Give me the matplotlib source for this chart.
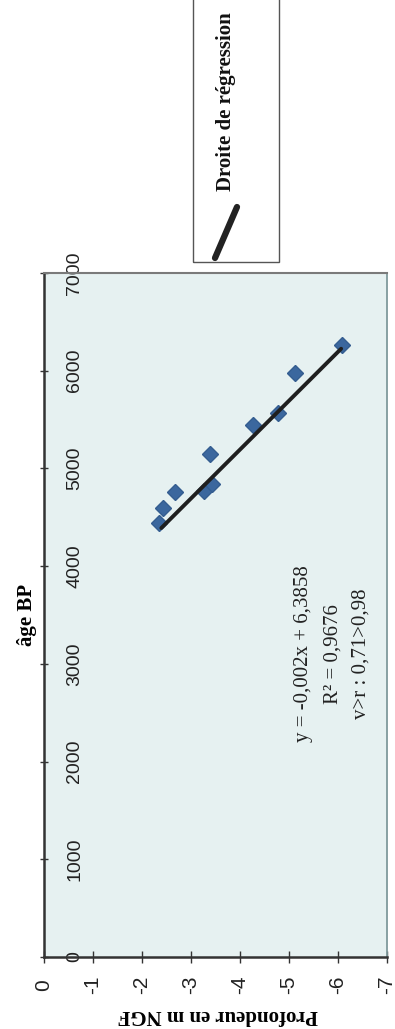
import matplotlib
matplotlib.use("Agg")
import matplotlib.pyplot as plt
import numpy as np
from matplotlib.lines import Line2D
from matplotlib.patches import Rectangle

plt.rcParams["axes.unicode_minus"] = False

AGE_BP = [4440, 4590, 4755, 4765, 4837, 5143, 5449, 5571, 5980, 6265]
DEPTH_NGF = [-2.35, -2.43, -2.67, -3.27, -3.43, -3.39, -4.27, -4.78, -5.12, -6.08]

# regression printed on the chart: depth = SLOPE * age + INTERCEPT
SLOPE = -0.002
INTERCEPT = 6.3858
FIT_AGE_RANGE = [4390, 6225]

AGE_TICKS = [0, 1000, 2000, 3000, 4000, 5000, 6000, 7000]
DEPTH_TICKS = [0, -1, -2, -3, -4, -5, -6, -7]

EQ_LINES = ["y = -0,002x + 6,3858", "R\u00b2 = 0,9676", "v>r : 0,71>0,98"]
EQ_DEPTH = [-5.30, -5.90, -6.47]
EQ_AGE = 3100

SANS = "Liberation Sans"
SERIF = "Liberation Serif"
W, H = 395, 1029

fig = plt.figure(figsize=(W / 100, H / 100), dpi=100)
fig.patch.set_facecolor("white")
ax = fig.add_axes([44 / W, 1 - 957 / H, 343 / W, 684 / H])
ax.set_facecolor("#e6f1f1")

# page is turned a quarter: depth runs across, age runs up
ax.set_xlim(0, -7)
ax.set_ylim(0, 7000)

ax.plot(DEPTH_NGF, AGE_BP, linestyle="none", marker="D", markersize=8,
        color="#3b679e", markeredgecolor="#345d90", zorder=3)

fit_age = np.array(FIT_AGE_RANGE, dtype=float)
ax.plot(SLOPE * fit_age + INTERCEPT, fit_age, color="#1f1f1f", lw=2.8,
        solid_capstyle="round", zorder=4)

# axes frame
for side, lw, col in [("left", 1.8, "#333333"), ("bottom", 1.8, "#333333"),
                      ("top", 1.5, "#7a7a7a"), ("right", 1.3, "#7f9a9c")]:
    ax.spines[side].set_linewidth(lw)
    ax.spines[side].set_color(col)

ax.set_yticks(AGE_TICKS)
ax.set_yticklabels([str(t) for t in AGE_TICKS], rotation=90, ha="center",
                   va="center", family=SANS, fontsize=14)
ax.tick_params(axis="y", direction="inout", length=6, width=1, pad=-25,
               colors="#333333")

ax.set_xticks(DEPTH_TICKS)
ax.set_xticklabels([str(t) for t in DEPTH_TICKS], rotation=90, ha="center",
                   va="center", family=SANS, fontsize=15)
ax.tick_params(axis="x", direction="inout", length=8, width=1, pad=16,
               colors="#333333")
for lab in ax.get_xticklabels() + ax.get_yticklabels():
    lab.set_color("#222222")

ax.set_ylabel("âge BP", family=SERIF, fontweight="bold", fontsize=15,
              rotation=90)
ax.yaxis.set_label_coords(-0.021, 0.50)
ax.set_xlabel("Profondeur en m NGF", family=SERIF, fontweight="bold",
              fontsize=15, rotation=180)
ax.xaxis.set_label_coords(0.507, -0.070)

for txt, d in zip(EQ_LINES, EQ_DEPTH):
    ax.text(d, EQ_AGE, txt, rotation=90, ha="center", va="center",
            family=SERIF, fontsize=15, color="#222222")

# legend box, cut by the page top
fig.patches.append(Rectangle((193 / W, 1 - 262 / H), 86 / W, 0.4,
                             transform=fig.transFigure, fill=False,
                             ec="#555555", lw=1.0))
fig.lines.append(Line2D([215 / W, 237 / W], [1 - 258 / H, 1 - 207 / H],
                        transform=fig.transFigure, color="#222222", lw=4.5,
                        solid_capstyle="round"))
fig.text(226 / W, 1 - 102 / H, "Droite de régression", rotation=90,
         ha="center", va="center", family=SERIF, fontweight="bold",
         fontsize=15, color="#111111")

fig.savefig("out.png", dpi=100)
